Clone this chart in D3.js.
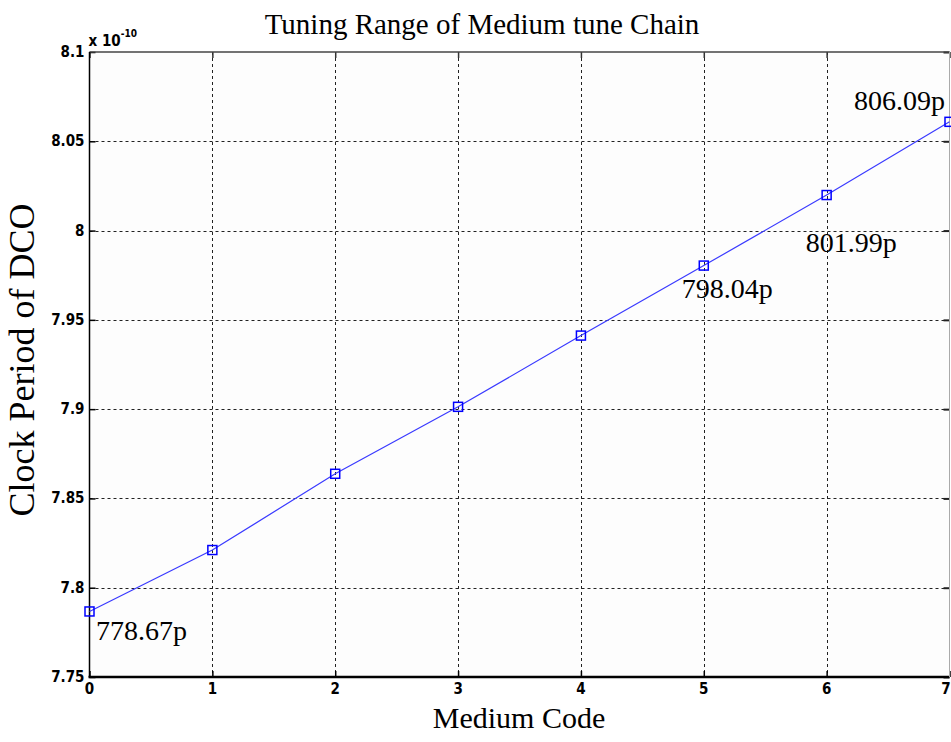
<!DOCTYPE html>
<html>
<head>
<meta charset="utf-8">
<script src="https://cdn.jsdelivr.net/npm/d3@7"></script>
<style>
  html, body { margin: 0; padding: 0; background: #fff; }
  svg { display: block; }
  .tick-label { font-family: "Liberation Sans Narrow", "DejaVu Sans Condensed", "Liberation Sans", Arial, sans-serif; font-weight: bold; font-size: 15px; fill: #000; }
  .serif { font-family: "Liberation Serif", "Times New Roman", serif; fill: #000; }
</style>
</head>
<body>
<svg id="chart" width="951" height="742"></svg>
<script>
// Medium tune code vs. DCO clock period (picoseconds)
const codes = [0, 1, 2, 3, 4, 5, 6, 7];
const periodPs = [778.67, 782.11, 786.38, 790.13, 794.12, 798.04, 801.99, 806.09];

// axis ticks (y axis is shown in units of 1e-10 s)
const xTicks = [0, 1, 2, 3, 4, 5, 6, 7];
const yTicks = [7.75, 7.8, 7.85, 7.9, 7.95, 8.0, 8.05, 8.1];
const yTickLabels = ["7.75", "7.8", "7.85", "7.9", "7.95", "8", "8.05", "8.1"];

// annotated points: index into the series, label offset
const annotIdx = [0, 5, 6, 7];
const annotDx = [6.5, -22, -21, -95.5];
const annotDy = [29, 32, 57, -12];

const titleText = "Tuning Range of Medium tune Chain";
const xLabelText = "Medium Code";
const yLabelText = "Clock Period of DCO";

const W = 951;
const svg = d3.select("#chart");
const plotL = 89.5, plotR = 949.5, plotT = 52, plotB = 677;

const x = d3.scaleLinear().domain([0, 7]).range([plotL, plotR]);
const y = d3.scaleLinear().domain([7.75, 8.1]).range([plotB, plotT]);
const toAxis = ps => ps / 100; // ps -> units of 1e-10 s

// plot background
svg.append("rect")
  .attr("x", plotL).attr("y", plotT)
  .attr("width", plotR - plotL).attr("height", plotB - plotT)
  .attr("fill", "#fdfdfd");

// grid lines
const grid = svg.append("g").attr("stroke", "#222").attr("stroke-width", 1)
  .attr("stroke-dasharray", "3,3");
grid.selectAll("line.gx").data(xTicks.slice(1, -1)).join("line")
  .attr("x1", d => Math.round(x(d)) + 0.5).attr("x2", d => Math.round(x(d)) + 0.5)
  .attr("y1", plotT).attr("y2", plotB);
grid.selectAll("line.gy").data(yTicks.slice(1, -1)).join("line")
  .attr("y1", d => Math.round(y(d)) + 0.5).attr("y2", d => Math.round(y(d)) + 0.5)
  .attr("x1", plotL).attr("x2", plotR);

// axes via d3 axis generators (inner ticks)
const xAxis = d3.axisBottom(x).tickValues(xTicks).tickSize(-6).tickFormat("");
const xAxisTop = d3.axisTop(x).tickValues(xTicks).tickSize(-6).tickFormat("");
const yAxis = d3.axisLeft(y).tickValues(yTicks).tickSize(-6).tickFormat("");
const yAxisRight = d3.axisRight(y).tickValues(yTicks).tickSize(-6).tickFormat("");

function styleAxis(g, color, width) {
  g.select(".domain").remove();
  g.selectAll(".tick line").attr("stroke", color).attr("stroke-width", width);
}
svg.append("g").attr("transform", `translate(0,${plotB})`).call(xAxis).call(styleAxis, "#000", 1.5);
svg.append("g").attr("transform", `translate(0,${plotT})`).call(xAxisTop).call(styleAxis, "#333", 1.5);
svg.append("g").attr("transform", `translate(${plotL},0)`).call(yAxis).call(styleAxis, "#000", 1.5);
svg.append("g").attr("transform", `translate(${plotR},0)`).call(yAxisRight).call(styleAxis, "#222", 2);

// frame
svg.append("line").attr("x1", plotL).attr("x2", plotR).attr("y1", plotT).attr("y2", plotT)
  .attr("stroke", "#444").attr("stroke-width", 1.5);
svg.append("line").attr("x1", plotL - 1).attr("x2", plotR).attr("y1", plotB).attr("y2", plotB)
  .attr("stroke", "#000").attr("stroke-width", 2.5);
svg.append("line").attr("x1", plotL).attr("x2", plotL).attr("y1", plotT).attr("y2", plotB)
  .attr("stroke", "#000").attr("stroke-width", 1.5);
svg.append("line").attr("x1", plotR).attr("x2", plotR).attr("y1", plotT).attr("y2", plotB)
  .attr("stroke", "#aaa").attr("stroke-width", 1);

// tick labels (the last one is kept inside the page edge)
svg.append("g").selectAll("text").data(xTicks).join("text")
  .attr("class", "tick-label")
  .attr("x", d => Math.min(x(d), W - 5)).attr("y", plotB + 17)
  .attr("text-anchor", "middle")
  .text(d => d);
svg.append("g").selectAll("text").data(yTicks).join("text")
  .attr("class", "tick-label")
  .attr("x", plotL - 5).attr("y", d => y(d) + 5)
  .attr("text-anchor", "end")
  .text((d, i) => yTickLabels[i]);

// exponent marker
const expo = svg.append("text").attr("class", "tick-label")
  .attr("x", plotL - 1).attr("y", plotT - 6);
expo.append("tspan").text("x 10");
expo.append("tspan").attr("dy", -9).attr("font-size", 10).text("-10");

// series line + markers
const pts = codes.map((c, i) => [c, toAxis(periodPs[i])]);
svg.append("path")
  .datum(pts)
  .attr("fill", "none")
  .attr("stroke", "#3a3aff")
  .attr("stroke-width", 1.2)
  .attr("d", d3.line().x(d => x(d[0])).y(d => y(d[1])));
svg.append("g").selectAll("rect").data(pts).join("rect")
  .attr("x", d => x(d[0]) - 4.5).attr("y", d => y(d[1]) - 4.5)
  .attr("width", 9).attr("height", 9)
  .attr("fill", "none").attr("stroke", "#0000ff").attr("stroke-width", 1.5);

// value annotations
svg.append("g").selectAll("text").data(annotIdx).join("text")
  .attr("class", "serif")
  .attr("font-size", 28)
  .attr("x", (d, k) => x(codes[d]) + annotDx[k])
  .attr("y", (d, k) => y(toAxis(periodPs[d])) + annotDy[k])
  .text(d => periodPs[d].toFixed(2) + "p");

// titles
svg.append("text").attr("class", "serif").attr("font-size", 29)
  .attr("x", 482).attr("y", 34).attr("text-anchor", "middle").text(titleText);
svg.append("text").attr("class", "serif").attr("font-size", 30)
  .attr("x", 519).attr("y", 728).attr("text-anchor", "middle").text(xLabelText);
svg.append("text").attr("class", "serif").attr("font-size", 36)
  .attr("transform", "translate(34,360) rotate(-90)")
  .attr("text-anchor", "middle").text(yLabelText);
</script>
</body>
</html>
